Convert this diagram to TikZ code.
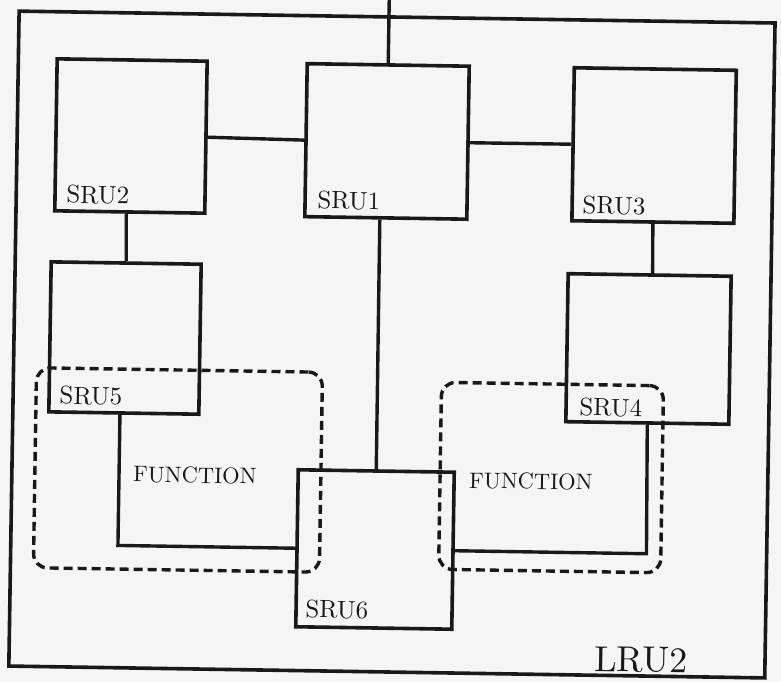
\documentclass[tikz,border=0pt]{standalone}
\usepackage{fontspec}
\newfontfamily\labfont{lmroman10-regular.otf}
\usetikzlibrary{calc}
\begin{document}
\begin{tikzpicture}[x=1pt,y=-1pt,
  srubox/.style={draw=black!90, line width=3.6pt, inner sep=0pt, rectangle},
  conn/.style={draw=black!90, line width=3.4pt},
  funcbox/.style={draw=black!90, line width=3.4pt, dash pattern=on 9pt off 5pt, rounded corners=14pt, inner sep=0pt, rectangle},
  srulab/.style={anchor=base west, inner sep=0pt, text=black!90, font=\labfont\fontsize{25}{25}\selectfont},
  funclab/.style={anchor=base west, inner sep=0pt, text=black!90, font=\labfont\fontsize{22.5}{22.5}\selectfont},
  lrulab/.style={anchor=base west, inner sep=0pt, text=black!90, font=\labfont\fontsize{36}{36}\selectfont}]
\useasboundingbox (0,0) rectangle (781,682);
\fill[black!4] (0,0) rectangle (781,682);
\begin{scope}[rotate around={-0.9:(390,340)}, transform shape]
  % outer LRU box
  \node[srubox, minimum width=756pt, minimum height=655pt] (lru) at (392,344.5) {};
  % SRU boxes
  \node[srubox, minimum width=150pt, minimum height=152pt] (sru2) at (127.8,140.1) {};
  \node[srubox, minimum width=162pt, minimum height=153pt] (sru1) at (383.9,141.5) {};
  \node[srubox, minimum width=162pt, minimum height=153pt] (sru3) at (651,141.4) {};
  \node[srubox, minimum width=150pt, minimum height=150pt] (sru5) at (125,342.2) {};
  \node[srubox, minimum width=163pt, minimum height=148pt] (sru4) at (648.6,344.9) {};
  \node[srubox, minimum width=156pt, minimum height=157pt] (sru6) at (378.3,549.7) {};
  % labels
  \node[srulab] (sru2l) at ([shift={(13,-10)}]sru2.south west) {SRU2};
  \node[srulab] (sru1l) at ([shift={(14,-10)}]sru1.south west) {SRU1};
  \node[srulab] (sru3l) at ([shift={(12,-9)}]sru3.south west) {SRU3};
  \node[srulab] (sru5l) at ([shift={(12,-10)}]sru5.south west) {SRU5};
  \node[srulab] (sru4l) at ([shift={(15,-8)}]sru4.south west) {SRU4};
  \node[srulab] (sru6l) at ([shift={(11,-11)}]sru6.south west) {SRU6};
  % connectors
  \coordinate (topend) at (383.9,-20);
  \draw[conn] (topend) -- (sru1.north);
  \draw[conn] (sru2.east) -- (sru1.west);
  \draw[conn] (sru1.east) -- (sru3.west);
  \draw[conn] ($(sru2.south west)!0.477!(sru2.south east)$) -- (sru5.north);
  \draw[conn] ($(sru1.south west)!0.464!(sru1.south east)$) -- (sru6.north);
  \draw[conn] (sru3.south) -- ($(sru4.north west)!0.518!(sru4.north east)$);
  % function outlines
  \coordinate (f1) at (121.2,549.7);
  \coordinate (f2) at (649.8,549.7);
  \draw[conn] ($(sru5.south west)!0.475!(sru5.south east)$) -- (f1) -- (sru6.west);
  \draw[conn] (sru6.east) -- (f2) -- (sru4.south);
  % dashed function groups
  \node[funcbox, minimum width=286pt, minimum height=200pt] (fg1) at (180,473.3) {};
  \node[funcbox, minimum width=222pt, minimum height=187pt] (fg2) at (553.2,475) {};
  \node[funclab] (fl1) at (135.2,486) {FUNCTION};
  \node[funclab] (fl2) at (471.3,486.8) {FUNCTION};
  \node[lrulab] (lrul) at (599,667.8) {LRU2};
\end{scope}
\end{tikzpicture}
\end{document}
